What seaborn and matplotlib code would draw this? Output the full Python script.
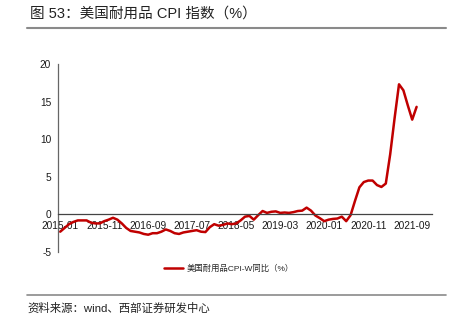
import numpy as np
import pandas as pd
import matplotlib
matplotlib.use("Agg")
import matplotlib.pyplot as plt
from matplotlib.lines import Line2D
from matplotlib.ticker import FixedLocator, NullFormatter
import seaborn as sns

# US durable goods CPI-W, year-over-year (%), monthly from 2015-01
cpi_durable_yoy = [
    -2.3, -1.8, -1.3, -1.0, -0.8, -0.8, -0.8, -1.1, -1.2, -1.2,
    -0.9, -0.7, -0.45, -0.7, -1.2, -1.8, -2.2, -2.3, -2.4, -2.6,
    -2.7, -2.5, -2.5, -2.3, -2.0, -2.2, -2.5, -2.6, -2.4, -2.3,
    -2.2, -2.1, -2.3, -2.35, -1.7, -1.3, -1.5, -1.4, -1.2, -1.3,
    -1.2, -0.8, -0.3, -0.2, -0.7, -0.1, 0.45, 0.2, 0.35, 0.4,
    0.2, 0.25, 0.2, 0.3, 0.45, 0.5, 0.9, 0.5, -0.15, -0.5,
    -0.9, -0.7, -0.6, -0.55, -0.3, -0.9, -0.1, 1.8, 3.6, 4.3,
    4.5, 4.5, 3.9, 3.65, 4.1, 8.0, 12.8, 17.3, 16.5, 14.5,
    12.6, 14.3,
]
months = list(pd.period_range("2015-01", periods=len(cpi_durable_yoy), freq="M").strftime("%Y-%m"))
yticks = [-5, 0, 5, 10, 15, 20]

title = "图 53：美国耐用品 CPI 指数（%）"
series_name = "美国耐用品CPI-W同比（%）"
source = "资料来源：wind、西部证券研发中心"

sns.set_theme(style="white")
plt.rcParams["font.family"] = ["Liberation Sans", "Noto Sans CJK SC", "DejaVu Sans"]
plt.rcParams["axes.unicode_minus"] = False

df = pd.DataFrame({"idx": np.arange(len(months)), "month": months, "yoy": cpi_durable_yoy})

fig = plt.figure(figsize=(4.59, 3.26), dpi=100)
ax = fig.add_axes([58 / 459, 1 - 252 / 326, (432 - 58) / 459, (252 - 64) / 326])

red = "#C00000"
sns.lineplot(data=df, x="idx", y="yoy", ax=ax, color=red, linewidth=1.8, legend=False)

n_cat = 85
ax.set_xlim(-0.5, n_cat - 0.5)
ax.set_ylim(-5, 20)
ax.set_xlabel("")
ax.set_ylabel("")

# category labels every 10 months, tick marks on category boundaries
label_pos = list(range(0, len(months), 10))
ax.xaxis.set_major_locator(FixedLocator(label_pos))
ax.set_xticklabels([months[i] for i in label_pos])
ax.xaxis.set_minor_locator(FixedLocator([p - 0.5 for p in label_pos]))
ax.xaxis.set_minor_formatter(NullFormatter())
ax.tick_params(axis="x", which="major", length=0, pad=4.5, labelsize=7.3, labelcolor="#1a1a1a")
ax.tick_params(axis="x", which="minor", direction="in", length=3, width=0.8, color="#555555")

ax.set_yticks(yticks)
ax.set_yticklabels([str(v) for v in yticks])
ax.tick_params(axis="y", direction="in", length=3, width=0.8, color="#555555", pad=5,
               labelsize=7.3, labelcolor="#1a1a1a")

for s in ["top", "right"]:
    ax.spines[s].set_visible(False)
ax.spines["bottom"].set_position(("data", 0))
ax.spines["bottom"].set_color("#444444")
ax.spines["bottom"].set_linewidth(0.9)
ax.spines["left"].set_color("#666666")
ax.spines["left"].set_linewidth(0.9)
ax.grid(False)

handle = Line2D([0], [0], color=red, linewidth=1.8)
fig.legend([handle], [series_name], loc="center", bbox_to_anchor=(229 / 459, 1 - 269 / 326),
           frameon=False, fontsize=6, handlelength=2.3, handletextpad=0.5)

fig.text(30 / 459, 1 - 14 / 326, title, fontsize=10.5, color="#222222", va="center", ha="left")
fig.add_artist(Line2D([27 / 459, 446 / 459], [1 - 28 / 326, 1 - 28 / 326], color="#8a8a8a", linewidth=1.5))
fig.add_artist(Line2D([27 / 459, 446 / 459], [1 - 295 / 326, 1 - 295 / 326], color="#8a8a8a", linewidth=1.2))
fig.text(27 / 459, 1 - 308 / 326, source, fontsize=8.2, color="#222222", va="center", ha="left")

fig.savefig("out.png", dpi=100)
